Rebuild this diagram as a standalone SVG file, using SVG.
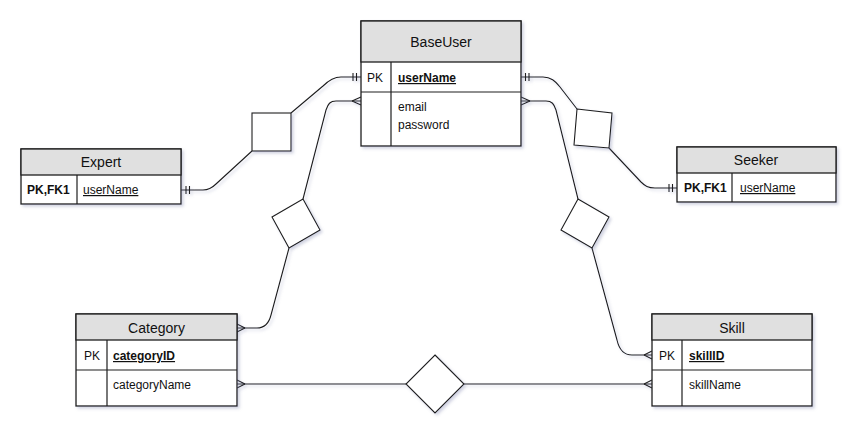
<svg xmlns="http://www.w3.org/2000/svg" width="868" height="445" viewBox="0 0 868 445">
<defs>
<filter id="sh" x="-10%" y="-10%" width="130%" height="130%">
<feDropShadow dx="2" dy="2" stdDeviation="1.5" flood-color="#7a80a8" flood-opacity="0.35"/>
</filter>
<style>
.box{fill:#ffffff;stroke:#1e1e1e;stroke-width:1.3}
.hdr{fill:#e0e0e0;stroke:#1e1e1e;stroke-width:1.3}
.ln{fill:none;stroke:#1e1e1e;stroke-width:1.2}
.rel{fill:#ffffff;stroke:#1e1e1e;stroke-width:1.1}
.con{fill:none;stroke:#1e1e1e;stroke-width:1.1}
text{font-family:"Liberation Sans",Arial,Helvetica,sans-serif;fill:#111}
.t{font-size:14px;text-anchor:middle}
.a{font-size:12px}
.k{font-size:12px;font-weight:bold;text-decoration:underline}
.u{font-size:12px;text-decoration:underline}
.b{font-size:12px;font-weight:bold}
</style>
</defs>
<rect width="868" height="445" fill="#ffffff"/>

<g id="connectors" filter="url(#sh)">
<!-- BaseUser - Expert -->
<path class="con" d="M361,77 L341,77 C334,77 329,80 323,86 L291,113"/>
<path class="con" d="M252,151 L216,184 C212,188 209,190 203,190 L181,190"/>
<path class="con" d="M353,73 V81 M356.5,73 V81"/>
<path class="con" d="M186,186 V194 M189.5,186 V194"/>
<!-- BaseUser - Seeker -->
<path class="con" d="M521,77 L543,77 C551,77 555,81 560,87 L577,109"/>
<path class="con" d="M609,148 L641,182 C645,186 648,188 655,188 L677,188"/>
<path class="con" d="M529,73 V81 M525.5,73 V81"/>
<path class="con" d="M669,184 V192 M672.5,184 V192"/>
<!-- BaseUser - Category -->
<path class="con" d="M361,101 L336,101 C330,101 328,104 326,110 L303,199"/>
<path class="con" d="M289,248 L271,315 C269,323 265,328 257,328 L237,328"/>
<path class="con" d="M352,101 L361,97 M352,101 L361,105"/>
<path class="con" d="M245,328 L237,324 M245,328 L237,332"/>
<!-- BaseUser - Skill -->
<path class="con" d="M521,101 L546,101 C552,101 554,104 556,110 L578,199"/>
<path class="con" d="M592,248 L617,340 C619,349 624,355 632,355 L652,355"/>
<path class="con" d="M530,101 L521,97 M530,101 L521,105"/>
<path class="con" d="M644,355 L652,351 M644,355 L652,359"/>
<!-- Category - Skill -->
<path class="con" d="M237,384 L406,384"/>
<path class="con" d="M464,384 L652,384"/>
<path class="con" d="M245,384 L237,380 M245,384 L237,388"/>
<path class="con" d="M644,384 L652,380 M644,384 L652,388"/>
</g>

<g id="rel-expert" filter="url(#sh)">
<rect class="rel" x="252" y="113" width="39" height="38"/>
</g>
<g id="rel-seeker" filter="url(#sh)">
<polygon class="rel" points="577,109 612,113 609,148 574,145"/>
</g>
<g id="rel-category" filter="url(#sh)">
<polygon class="rel" points="303,199 320,230 289,248 272,217"/>
</g>
<g id="rel-skill" filter="url(#sh)">
<polygon class="rel" points="578,199 609,217 592,248 561,230"/>
</g>
<g id="rel-category-skill" filter="url(#sh)">
<polygon class="rel" points="435,355 464,384 435,413 406,384"/>
</g>

<g id="BaseUser">
<rect class="box" x="361" y="21" width="160" height="125" filter="url(#sh)"/>
<rect class="hdr" x="361" y="21" width="160" height="41"/>
<path class="ln" d="M361,92 H521 M391,62 V146"/>
<text class="t" x="441" y="47">BaseUser</text>
<text class="a" x="367" y="82">PK</text>
<text class="k" x="398" y="82">userName</text>
<text class="a" x="398" y="111">email</text>
<text class="a" x="398" y="129">password</text>
</g>

<g id="Expert">
<rect class="box" x="21" y="149" width="160" height="55" filter="url(#sh)"/>
<rect class="hdr" x="21" y="149" width="160" height="26"/>
<path class="ln" d="M77,175 V204"/>
<text class="t" x="101" y="167">Expert</text>
<text class="b" x="27" y="194">PK,FK1</text>
<text class="u" x="83" y="194">userName</text>
</g>

<g id="Seeker">
<rect class="box" x="677" y="147" width="159" height="55" filter="url(#sh)"/>
<rect class="hdr" x="677" y="147" width="159" height="26"/>
<path class="ln" d="M732,173 V202"/>
<text class="t" x="756" y="165">Seeker</text>
<text class="b" x="684" y="192">PK,FK1</text>
<text class="u" x="740" y="192">userName</text>
</g>

<g id="Category">
<rect class="box" x="76" y="314" width="161" height="92" filter="url(#sh)"/>
<rect class="hdr" x="76" y="314" width="161" height="26"/>
<path class="ln" d="M76,370 H237 M107,340 V406"/>
<text class="t" x="156.5" y="333">Category</text>
<text class="a" x="84" y="360">PK</text>
<text class="k" x="113" y="360">categoryID</text>
<text class="a" x="113" y="389">categoryName</text>
</g>

<g id="Skill">
<rect class="box" x="652" y="314" width="160" height="92" filter="url(#sh)"/>
<rect class="hdr" x="652" y="314" width="160" height="26"/>
<path class="ln" d="M652,370 H812 M682,340 V406"/>
<text class="t" x="732" y="333">Skill</text>
<text class="a" x="659" y="360">PK</text>
<text class="k" x="689" y="360">skillID</text>
<text class="a" x="689" y="389">skillName</text>
</g>
</svg>
